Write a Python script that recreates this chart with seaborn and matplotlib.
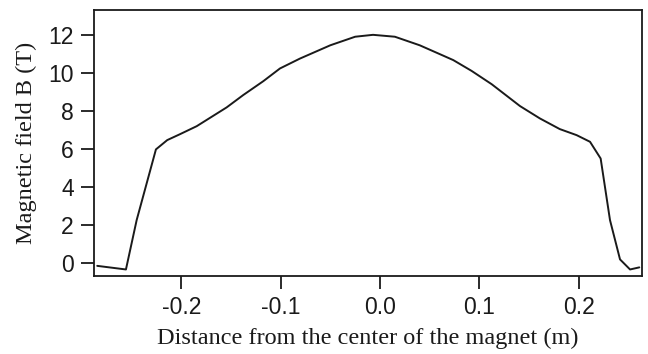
import matplotlib
matplotlib.use("Agg")
import matplotlib.pyplot as plt
import seaborn as sns
import pandas as pd

# Measured field profile along the magnet axis
distance_m = [-0.2847, -0.2558, -0.2450, -0.2256, -0.2142, -0.2014, -0.1846, -0.1544,
              -0.1377, -0.1175, -0.1007, -0.0806, -0.0500, -0.0250, -0.0070, 0.0150,
              0.0400, 0.0604, 0.0738, 0.0923, 0.1125, 0.1410, 0.1610, 0.1810,
              0.1980, 0.2115, 0.2222, 0.2316, 0.2417, 0.2518, 0.2611]
field_T = [-0.16, -0.35, 2.25, 5.97, 6.46, 6.77, 7.19, 8.18,
           8.83, 9.56, 10.23, 10.75, 11.45, 11.90, 12.00, 11.90,
           11.45, 10.98, 10.67, 10.10, 9.40, 8.25, 7.60, 7.04,
           6.72, 6.37, 5.49, 2.25, 0.18, -0.35, -0.24]

x_ticks = [-0.2, -0.1, 0.0, 0.1, 0.2]
x_tick_labels = ["-0.2", "-0.1", "0.0", "0.1", "0.2"]
y_ticks = [0, 2, 4, 6, 8, 10, 12]

df = pd.DataFrame({"distance": distance_m, "field": field_T})

sns.set_style("ticks")
plt.rcParams["font.family"] = ["Liberation Sans", "DejaVu Sans"]

fig = plt.figure(figsize=(6.48, 3.54), dpi=100)
ax = fig.add_axes([0.145, 0.22, 0.846, 0.753])

sns.lineplot(data=df, x="distance", y="field", ax=ax, color="#1a1a1a",
             linewidth=1.4, sort=False, estimator=None)

ax.set_xlim(-0.288, 0.264)
ax.set_ylim(-0.7, 13.33)
ax.set_xticks(x_ticks)
ax.set_xticklabels(x_tick_labels)
ax.set_yticks(y_ticks)

for side in ["left", "right", "top", "bottom"]:
    ax.spines[side].set_visible(True)
    ax.spines[side].set_linewidth(1.3)
    ax.spines[side].set_color("#1a1a1a")

ax.tick_params(axis="both", direction="out", length=9.4, width=1.3,
               color="#1a1a1a", labelsize=16.5, labelcolor="#1a1a1a", pad=5)
ax.tick_params(top=False, right=False)

serif = ["Liberation Serif", "DejaVu Serif"]
ax.set_xlabel("Distance from the center of the magnet (m)", family=serif,
              fontsize=17.5, color="#1a1a1a", labelpad=6)
ax.set_ylabel("Magnetic field B (T)", family=serif, fontsize=17.5,
              color="#1a1a1a", labelpad=8)

fig.savefig("out.png", dpi=100)
